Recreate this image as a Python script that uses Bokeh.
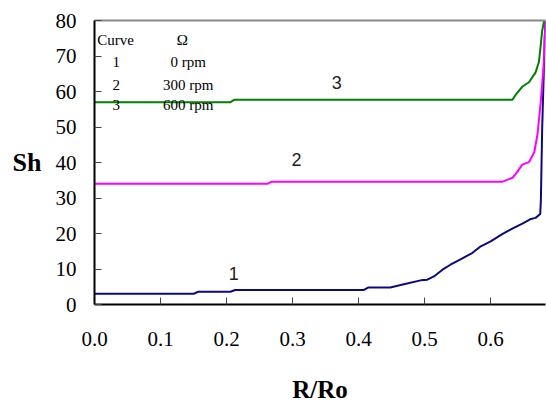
from bokeh.plotting import figure
from bokeh.models import Range1d, FixedTicker, LinearAxis, Label, NumeralTickFormatter
from bokeh.embed import file_html
from bokeh.resources import INLINE

# ---- data ----
x1 = [0.0, 0.150, 0.157, 0.206, 0.213, 0.408, 0.415, 0.448, 0.470, 0.494, 0.504, 0.514,
      0.527, 0.539, 0.555, 0.572, 0.585, 0.600, 0.618, 0.635, 0.648, 0.661, 0.668, 0.675,
      0.676, 0.678, 0.682, 0.683]
y1 = [3.0, 3.0, 3.6, 3.6, 4.1, 4.1, 4.8, 4.8, 5.8, 6.8, 7.0, 7.9,
      9.8, 11.2, 12.8, 14.5, 16.4, 17.8, 19.9, 21.6, 22.8, 24.1, 24.4, 25.5,
      29.3, 49.9, 76.0, 80.0]

x2 = [0.0, 0.262, 0.268, 0.618, 0.633, 0.638, 0.648, 0.658, 0.666, 0.671, 0.676, 0.680, 0.683]
y2 = [34.0, 34.0, 34.6, 34.6, 35.7, 36.8, 39.4, 40.1, 42.9, 48.1, 57.5, 66.8, 80.0]

x3 = [0.0, 0.206, 0.212, 0.633, 0.638, 0.648, 0.658, 0.668, 0.673, 0.676, 0.678, 0.681]
y3 = [57.0, 57.0, 57.7, 57.7, 59.1, 61.4, 62.6, 65.4, 68.3, 73.4, 77.2, 80.0]

curve_ids = ["1", "2", "3"]
speeds = ["0   rpm", "300 rpm", "600 rpm"]
x_ticks = [0.0, 0.1, 0.2, 0.3, 0.4, 0.5, 0.6]
y_ticks = [0, 10, 20, 30, 40, 50, 60, 70, 80]
x_title = "R/Ro"
y_title = "Sh"

SERIF = "Liberation Serif"
SANS = "Liberation Sans"

X_MAX = 0.683
p = figure(width=546, height=405, output_backend="svg", toolbar_location=None,
           x_range=Range1d(0, X_MAX), y_range=Range1d(0, 80),
           min_border_left=94, min_border_right=1, min_border_top=20, min_border_bottom=101)
p.outline_line_color = None
p.background_fill_color = "white"
p.border_fill_color = "white"
p.grid.visible = False

# axes
for ax in (p.xaxis[0], p.yaxis[0]):
    ax.axis_line_color = "black"
    ax.axis_line_width = 2
    ax.major_tick_in = 7
    ax.major_tick_out = 0
    ax.major_tick_line_color = "#444444"
    ax.minor_tick_line_color = None
    ax.major_label_text_font = SERIF
    ax.major_label_text_font_size = "21px"
    ax.major_label_text_color = "black"
    ax.axis_label_text_font = SERIF
    ax.axis_label_text_font_style = "bold"
    ax.axis_label_text_color = "black"

p.xaxis.ticker = FixedTicker(ticks=x_ticks)
p.xaxis.formatter = NumeralTickFormatter(format="0.0")
p.xaxis.major_label_standoff = 27
p.xaxis.axis_label = x_title
p.xaxis.axis_label_standoff = 27
p.xaxis.axis_label_text_font_size = "25px"

p.yaxis.ticker = FixedTicker(ticks=y_ticks)
p.yaxis.major_label_standoff = 18
p.yaxis.axis_label = y_title
p.yaxis.axis_label_orientation = "horizontal"
p.yaxis.axis_label_standoff = 11
p.yaxis.axis_label_text_font_size = "26px"

top = LinearAxis(axis_line_color="#888888", axis_line_width=2,
                 ticker=FixedTicker(ticks=[]),
                 major_tick_line_color=None, minor_tick_line_color=None)
p.add_layout(top, "above")

# curves
p.line(x1, y1, line_color="#0a0a80", line_width=2)
p.line(x2, y2, line_color="#ff00ff", line_width=2)
p.line(x3, y3, line_color="#008000", line_width=2)

# curve labels
for xx, yy, t in [(0.211, 8.6, curve_ids[0]), (0.306, 40.8, curve_ids[1]), (0.367, 62.6, curve_ids[2])]:
    p.add_layout(Label(x=xx, y=yy, text=t, text_font=SANS, text_font_size="18px",
                       text_align="center", text_baseline="middle", text_color="#222222"))

# legend-like table
p.add_layout(Label(x=0.004, y=74.6, text="Curve", text_font=SERIF, text_font_size="15px",
                   text_align="left", text_baseline="middle", text_color="black"))
p.add_layout(Label(x=0.133, y=74.6, text="Ω", text_font=SERIF, text_font_size="15px",
                   text_align="center", text_baseline="middle", text_color="black"))
for yy, cid, sp in zip([68.3, 61.8, 56.1], curve_ids, speeds):
    p.add_layout(Label(x=0.033, y=yy, text=cid, text_font=SERIF, text_font_size="15px",
                       text_align="center", text_baseline="middle", text_color="black"))
    p.add_layout(Label(x=0.180, y=yy, text=sp, text_font=SERIF, text_font_size="15px",
                       text_align="right", text_baseline="middle", text_color="black"))

open("out.html", "w").write(file_html(p, INLINE))
